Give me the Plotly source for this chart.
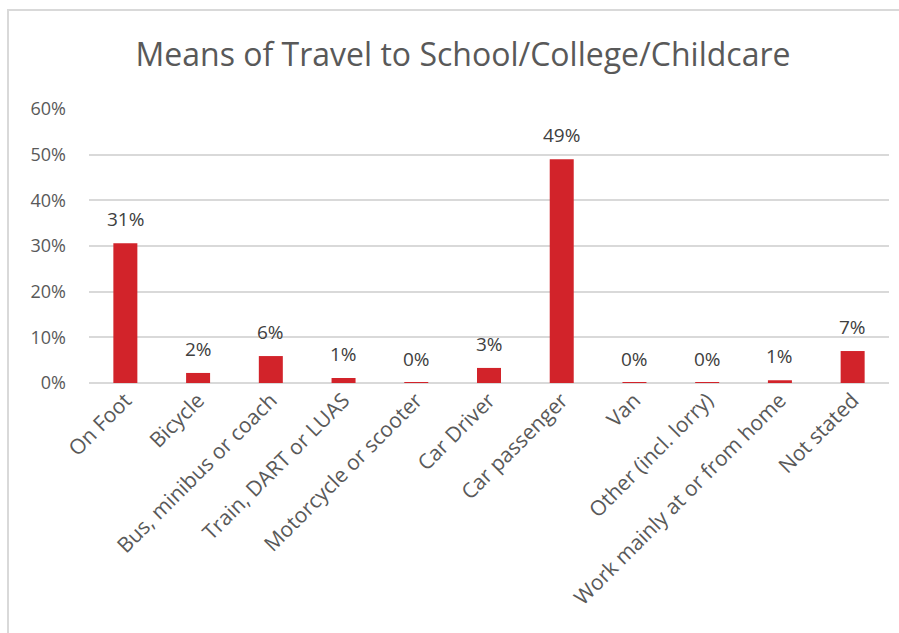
import plotly.graph_objects as go

categories = ["On Foot", "Bicycle", "Bus, minibus or coach", "Train, DART or LUAS",
              "Motorcycle or scooter", "Car Driver", "Car passenger", "Van",
              "Other (incl. lorry)", "Work mainly at or from home", "Not stated"]
values = [30.6, 2.2, 5.9, 1.1, 0.1, 3.3, 49.0, 0.05, 0.05, 0.6, 7.0]
labels = ["31%", "2%", "6%", "1%", "0%", "3%", "49%", "0%", "0%", "1%", "7%"]
y_ticks = [0, 10, 20, 30, 40, 50, 60]
y_tick_labels = ["0%", "10%", "20%", "30%", "40%", "50%", "60%"]

FONT = "Open Sans"
GREY = "#595959"

fig = go.Figure(go.Bar(
    x=categories, y=values,
    marker=dict(color="#d2232a", line=dict(width=0)),
    cliponaxis=False, hoverinfo="x+y",
))

for c, v, t in zip(categories, values, labels):
    fig.add_annotation(x=c, y=v, text=t, showarrow=False, yanchor="middle",
                       yshift=24, font=dict(family=FONT, size=19, color="#404040"))

L, R, T, B = 89, 10, 109, 250
W, H = 899, 633
pw, ph = W - L - R, H - T - B

fig.update_layout(
    width=W, height=H,
    margin=dict(l=L, r=R, t=T, b=B),
    paper_bgcolor="white", plot_bgcolor="white",
    bargap=0.67,
    showlegend=False,
    title=dict(text="Means of Travel to School/College/Childcare",
               x=463 / W, xanchor="center", y=1 - 55 / H, yanchor="middle",
               font=dict(family=FONT, size=32, color=GREY)),
    font=dict(family=FONT, color=GREY),
    shapes=[dict(type="rect", xref="paper", yref="paper",
                 x0=(8 - L) / pw, x1=(W + 10 - L) / pw,
                 y0=-(H + 10 - (H - B)) / ph, y1=((H - B) - 10) / ph,
                 line=dict(color="#d9d9d9", width=2), layer="below")],
)
fig.update_xaxes(tickangle=-45, tickfont=dict(family=FONT, size=21, color=GREY),
                 showline=False, ticks="")
fig.update_yaxes(range=[0, 60], tickvals=y_ticks, ticktext=y_tick_labels,
                 tickfont=dict(family=FONT, size=18, color=GREY),
                 showgrid=True, gridcolor="#d9d9d9", gridwidth=2,
                 zeroline=True, zerolinecolor="#d9d9d9", zerolinewidth=2,
                 ticks="", ticklabelstandoff=22)

fig.write_html("out.html", config={"displayModeBar": False},
               post_script="document.body.style.margin='0';")
